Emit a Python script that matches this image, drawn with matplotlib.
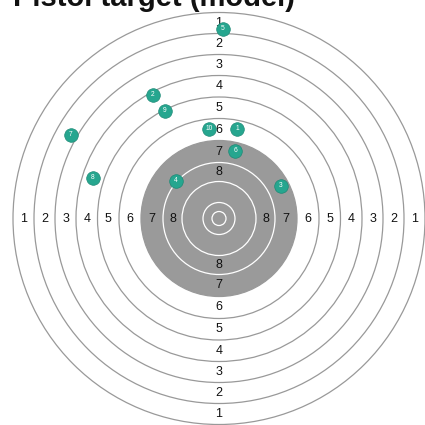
"""
Pistol target with numbered shot positions.
"""

import matplotlib.pyplot as plt
from matplotlib.patches import Circle

plt.rcParams["font.family"] = ["Liberation Sans", "DejaVu Sans"]

# ring scores, outer edge radius of each ring (pixel-like units)
ring_scores = [1, 2, 3, 4, 5, 6, 7, 8, 9, 10]
ring_radii = [206, 185, 164, 143, 121.5, 100, 78, 56, 37, 16]
inner_ten_radius = 7
black_from_score = 7

# label ring scores along the cross (8 is the innermost labelled ring)
label_scores = [1, 2, 3, 4, 5, 6, 7, 8]

# shots: number, x, y relative to centre (y up)
shot_ids = [1, 2, 3, 4, 5, 6, 7, 8, 9, 10]
shot_x = [18, -66, 62, -43, 4, 16, -148, -126, -54, -10]
shot_y = [90, 124, 33, 38, 190, 68, 84, 41, 108, 90]

title = "Pistol target (model)"

fig = plt.figure(figsize=(4.25, 4.25), dpi=100)
ax = fig.add_axes([0, 0, 1, 1])
ax.set_xlim(-219, 206)
ax.set_ylim(-206.5, 218.5)
ax.set_aspect("equal")
ax.axis("off")

line_grey = "#999999"
target_grey = "#9a9a9a"

black_r = ring_radii[ring_scores.index(black_from_score)]
ax.add_patch(Circle((0, 0), black_r, facecolor=target_grey, edgecolor="none", zorder=1))

for score, r in zip(ring_scores, ring_radii):
    inside = score > black_from_score
    col = "white" if inside else line_grey
    ax.add_patch(Circle((0, 0), r, fill=False, edgecolor=col, linewidth=0.9, zorder=2))
ax.add_patch(Circle((0, 0), inner_ten_radius, fill=False, edgecolor="white",
                    linewidth=0.9, zorder=2))

# score labels at the middle of each ring, on the four arms
for score in label_scores:
    i = ring_scores.index(score)
    mid = (ring_radii[i] + ring_radii[i + 1]) / 2
    for dx, dy in [(0, 1), (0, -1), (-1, 0), (1, 0)]:
        ax.text(dx * mid, dy * mid, str(score), ha="center", va="center",
                fontsize=9, color="#111111", zorder=3)

# shots
ax.plot(shot_x, shot_y, "o", markersize=9.8, markerfacecolor="#26a68f",
        markeredgecolor="#1d8a76", markeredgewidth=0.5, linestyle="none", zorder=4)
for n, x, y in zip(shot_ids, shot_x, shot_y):
    ax.text(x, y, str(n), ha="center", va="center", fontsize=4.8,
            color="white", zorder=5)

# title sits mostly above the top edge, as in the source picture
fig.text(0.03, 1 - 6 / 425, title, ha="left", va="baseline",
         fontsize=21, fontweight="bold", color="#111111")

plt.savefig("out.png", dpi=100)
